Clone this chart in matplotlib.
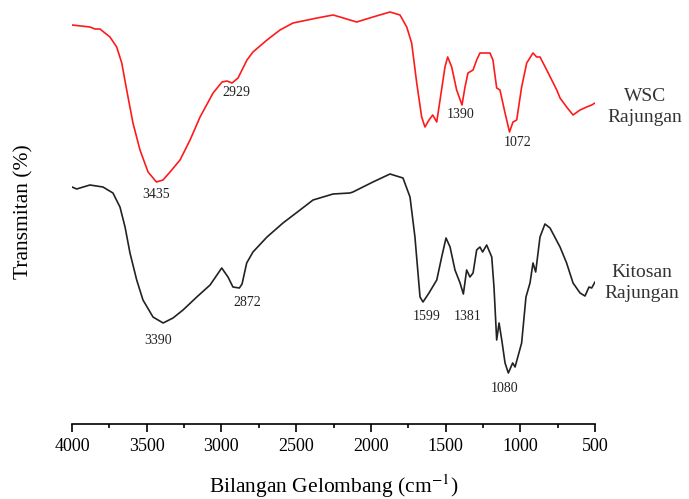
import numpy as np
import matplotlib
matplotlib.use("Agg")
import matplotlib.pyplot as plt

plt.rcParams['font.family'] = ['Liberation Serif', 'DejaVu Serif']
plt.rcParams['mathtext.fontset'] = 'stix'

# spektrum FTIR WSC rajungan (bilangan gelombang, transmitan relatif)
wsc_wn = [4000, 3880, 3846, 3813, 3746, 3701, 3667, 3634, 3592, 3545, 3491, 3435,
          3391, 3344, 3277, 3210, 3143, 3056, 2996, 2963, 2929, 2889, 2829, 2789,
          2695, 2608, 2521, 2360, 2253, 2206, 2140, 2095, 1986, 1872, 1805, 1760,
          1727, 1693, 1660, 1638, 1611, 1586, 1559, 1537, 1504, 1486, 1459, 1426,
          1390, 1370, 1350, 1316, 1292, 1270, 1203, 1183, 1158, 1136, 1102, 1072,
          1049, 1024, 991, 957, 915, 890, 868, 823, 756, 734, 690, 647, 600, 556,
          522, 500]
wsc_t = [399, 397, 395, 395, 387, 377, 361, 334, 301, 274, 252, 242,
         244, 252, 264, 284, 307, 331, 342, 343, 341, 346, 364, 372,
         384, 394, 401, 406, 409, 407, 404, 402, 407, 412, 409, 397,
         381, 341, 307, 297, 304, 309, 302, 324, 357, 367, 357, 334,
         319, 337, 351, 354, 364, 371, 371, 364, 336, 334, 311, 292,
         302, 304, 337, 361, 371, 367, 367, 354, 334, 326, 317, 309, 314, 317,
         319, 321]

# spektrum FTIR kitosan rajungan
kit_wn = [4000, 3969, 3880, 3793, 3726, 3679, 3645, 3612, 3567, 3525, 3458, 3390,
          3324, 3257, 3165, 3076, 2998, 2956, 2923, 2880, 2862, 2831, 2789, 2695,
          2588, 2474, 2387, 2253, 2140, 2120, 1986, 1872, 1785, 1738, 1705, 1671,
          1651, 1611, 1559, 1526, 1497, 1470, 1437, 1403, 1381, 1359, 1337, 1316,
          1292, 1270, 1252, 1225, 1191, 1176, 1158, 1142, 1124, 1102, 1080, 1051,
          1035, 991, 962, 935, 915, 897, 868, 835, 801, 734, 690, 647, 600, 567,
          540, 522, 500]
kit_t = [237, 235, 239, 237, 231, 217, 197, 171, 144, 124, 107, 101,
         106, 114, 127, 139, 156, 147, 137, 136, 140, 161, 172, 187,
         201, 214, 224, 230, 231, 232, 242, 250, 246, 227, 187, 127,
         122, 131, 144, 167, 186, 177, 154, 141, 130, 154, 147, 151,
         174, 177, 172, 179, 167, 137, 84, 101, 84, 61, 51, 61,
         57, 81, 127, 141, 161, 152, 187, 200, 196, 177, 161, 141, 131, 128,
         137, 136, 142]

# label puncak: (teks, x, y)
wsc_peaks = [("3435", 3435, 230), ("2929", 2900, 331),
             ("1390", 1399, 310), ("1072", 1017, 281)]
kit_peaks = [("3390", 3424, 84), ("2872", 2829, 122), ("1599", 1624, 107),
             ("1381", 1350, 107), ("1080", 1102, 36)]

fig = plt.figure(figsize=(6.89, 4.99), dpi=100)
ax = fig.add_axes([72 / 689, 1 - 424 / 499, 523 / 689, 424 / 499])

ax.plot(wsc_wn, wsc_t, color='#ff1a1a', lw=1.2)
ax.plot(kit_wn, kit_t, color='#222222', lw=1.2)

for txt, x, y in wsc_peaks + kit_peaks:
    ax.text(x, y, txt, fontsize=10, ha='center', va='center', color='#222222')

fig.text(645 / 689, 1 - 107 / 499, "WSC\nRajungan", fontsize=14, ha='center',
         va='center', linespacing=1.3, color='#333333')
fig.text(642 / 689, 1 - 283 / 499, "Kitosan\nRajungan", fontsize=14, ha='center',
         va='center', linespacing=1.3, color='#333333')

ax.set_xlim(4000, 500)
ax.set_ylim(0, 424)
ax.set_xticks(np.arange(4000, 499, -500))
ax.set_xticks(np.arange(3750, 500, -500), minor=True)
ax.set_yticks([])
for s in ['left', 'right', 'top']:
    ax.spines[s].set_visible(False)
ax.spines['bottom'].set_linewidth(1.2)
ax.tick_params(axis='x', which='major', direction='out', length=6, width=1.2,
               labelsize=13, pad=4)
ax.tick_params(axis='x', which='minor', direction='out', length=3, width=1.2)

ax.set_xlabel("Bilangan Gelombang (cm$^{-1}$)", fontsize=15.5, labelpad=13)
ax.set_ylabel("Transmitan (%)", fontsize=15.5, labelpad=28)

fig.savefig("out.png", dpi=100)
